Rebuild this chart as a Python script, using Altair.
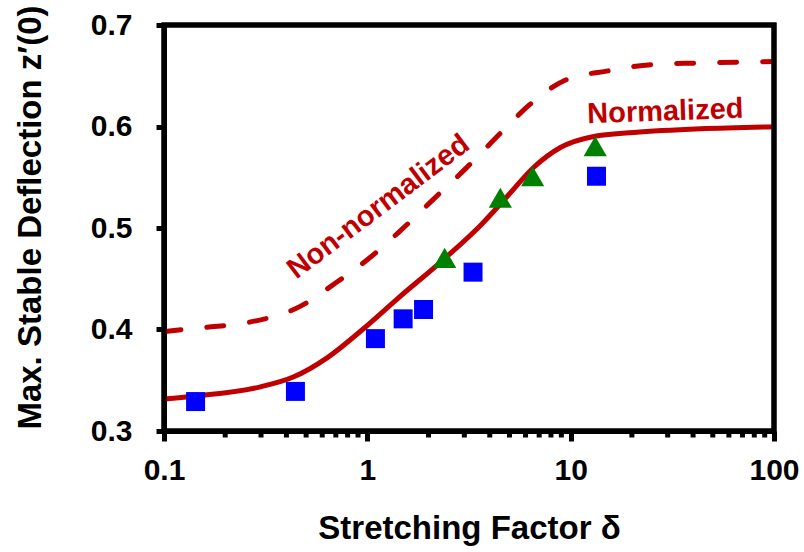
import altair as alt
import pandas as pd

# ---- data ----
norm_x = [0.1, 0.14, 0.298, 0.435, 0.634, 0.96, 1.41, 2.40, 3.60, 4.87, 6.57, 8.9, 13.0, 20.4, 43.5, 100]
norm_y = [0.3315, 0.3343, 0.3435, 0.3534, 0.3721, 0.401, 0.4305, 0.4699, 0.5025, 0.531, 0.5596, 0.5793, 0.5902, 0.594, 0.5977, 0.5997]

nonnorm_x = [0.1, 0.157, 0.26, 0.47, 0.70, 0.975, 1.43, 2.08, 3.06, 4.65, 6.24, 9.5, 15.5, 25, 42, 70, 100]
nonnorm_y = [0.398, 0.402, 0.407, 0.423, 0.446, 0.467, 0.496, 0.527, 0.559, 0.596, 0.621, 0.646, 0.655, 0.661, 0.6625, 0.6635, 0.664]

sq_x = [0.143, 0.443, 1.096, 1.5, 1.89, 3.31, 13.4]
sq_y = [0.329, 0.339, 0.391, 0.4105, 0.4197, 0.4565, 0.551]

tri_x = [2.40, 4.51, 6.5, 13.2]
tri_y = [0.4706, 0.5298, 0.551, 0.5806]

major_ticks = [0.1, 1, 10, 100]
minor_ticks = [0.2, 0.3, 0.4, 0.5, 0.6, 0.7, 0.8, 0.9,
               2, 3, 4, 5, 6, 7, 8, 9,
               20, 30, 40, 50, 60, 70, 80, 90]
y_ticks = [0.3, 0.4, 0.5, 0.6, 0.7]

# box edges (axis extents)
x_lo, x_hi = 0.1, 100
y_lo, y_hi = 0.3, 0.7

label_nonnorm = {"x": [1.134], "y": [0.521], "t": ["Non-normalized"]}
label_norm = {"x": [29.2], "y": [0.6148], "t": ["Normalized"]}

RED = "#C00000"
FONT = "Liberation Sans"
W, H = 610, 406

xs = alt.Scale(type="log", domain=[x_lo, x_hi], nice=False)
ys = alt.Scale(domain=[y_lo, y_hi], nice=False, zero=False)

x_axis = alt.Axis(values=major_ticks, format="~g", title="Stretching Factor δ",
                  orient="bottom", grid=False, domain=True, domainColor="black", domainWidth=5,
                  tickSize=10, tickWidth=5, tickColor="black",
                  labelFont=FONT, labelFontSize=30, labelFontWeight="bold", labelColor="black",
                  labelPadding=14, labelFlush=False, labelOverlap=False,
                  titleFont=FONT, titleFontSize=33, titleFontWeight="bold", titleColor="black",
                  titleBaseline="alphabetic", titleY=107, titleX=305)
y_axis = alt.Axis(values=y_ticks, format=".1f", title="Max. Stable Deflection z′(0)",
                  orient="left", grid=False, domain=True, domainColor="black", domainWidth=5,
                  tickSize=8, tickWidth=5, tickColor="black",
                  labelFont=FONT, labelFontSize=30, labelFontWeight="bold", labelColor="black",
                  labelPadding=24, labelFlush=False,
                  titleFont=FONT, titleFontSize=33, titleFontWeight="bold", titleColor="black",
                  titleAngle=270, titleBaseline="alphabetic", titleX=-124, titleY=192)

df_norm = pd.DataFrame({"x": norm_x, "y": norm_y})
df_nonnorm = pd.DataFrame({"x": nonnorm_x, "y": nonnorm_y})
df_sq = pd.DataFrame({"x": sq_x, "y": sq_y})
df_tri = pd.DataFrame({"x": tri_x, "y": tri_y})

X = alt.X("x:Q", scale=xs, axis=x_axis)
Y = alt.Y("y:Q", scale=ys, axis=y_axis)

# box frame as a closed polyline through the four corners
box = pd.DataFrame({
    "x": [x_lo, x_hi, x_hi, x_lo, x_lo],
    "y": [y_lo, y_lo, y_hi, y_hi, y_lo],
    "o": [0, 1, 2, 3, 4],
})
frame = alt.Chart(box).mark_line(color="#000000", strokeWidth=5, strokeJoin="miter",
                                 strokeCap="square", interpolate="linear").encode(
    x=X, y=Y, order="o:Q")

solid = alt.Chart(df_norm).mark_line(color=RED, strokeWidth=5, interpolate="monotone").encode(x=X, y=Y)
dashed = alt.Chart(df_nonnorm).mark_line(color=RED, strokeWidth=5, interpolate="monotone",
                                          strokeDash=[17, 26], strokeCap="round").encode(x=X, y=Y)
squares = alt.Chart(df_sq).mark_point(shape="square", filled=True, color="#0000FF",
                                      size=361, opacity=1).encode(x=X, y=Y)
triangles = alt.Chart(df_tri).mark_point(shape="triangle-up", filled=True, color="#008000",
                                         size=540, opacity=1).encode(x=X, y=Y)
txt1 = alt.Chart(pd.DataFrame(label_nonnorm)).mark_text(
    color=RED, font=FONT, fontSize=29, fontWeight="bold", angle=323,
    align="center", baseline="middle").encode(x=X, y=Y, text="t:N")
txt2 = alt.Chart(pd.DataFrame(label_norm)).mark_text(
    color=RED, font=FONT, fontSize=29, fontWeight="bold", angle=358,
    align="center", baseline="middle").encode(x=X, y=Y, text="t:N")

# minor ticks of the log axis, hanging below the bottom edge
minor = alt.Chart(pd.DataFrame({"x": minor_ticks})).mark_rule(
    color="black", strokeWidth=5).encode(
    x=X, y=alt.value(H), y2=alt.value(H + 6.5))

chart = alt.layer(solid, dashed, squares, triangles, txt1, txt2, minor, frame).properties(
    width=W, height=H,
    padding={"left": 164, "top": 25, "right": 30, "bottom": 121},
    autosize=alt.AutoSizeParams(type="none"),
    background="white",
).configure_view(stroke="black", strokeWidth=5)

chart.save("out.html", embed_options={"renderer": "svg", "actions": False})
